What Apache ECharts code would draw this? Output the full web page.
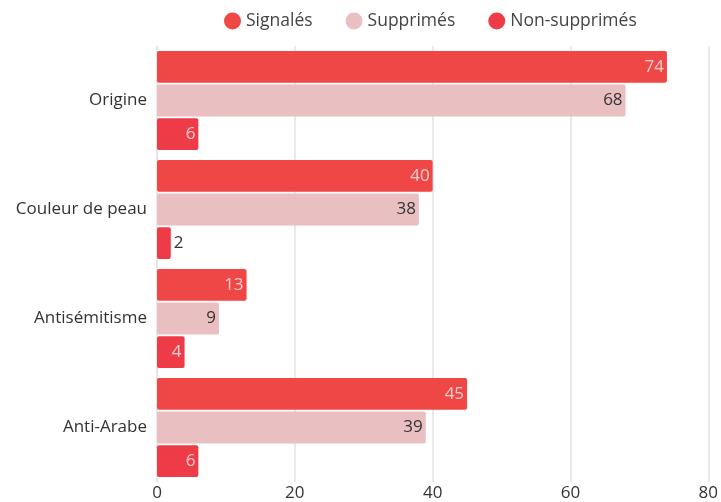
<!DOCTYPE html>
<html><head><meta charset="utf-8">
<script src="https://cdn.jsdelivr.net/npm/echarts@6/dist/echarts.min.js"></script>
<style>html,body{margin:0;padding:0;background:#fff}#c{width:721px;height:502px}</style>
</head><body><div id="c"></div>
<script>
const categories = ['Origine', 'Couleur de peau', 'Antisémitisme', 'Anti-Arabe'];
const signales = [74, 40, 13, 45];
const supprimes = [68, 38, 9, 39];
const nonSupprimes = [6, 2, 4, 6];
const xTicks = [0, 20, 40, 60, 80];

const FONT = '"Open Sans", sans-serif';
const FS = 17;
const chart = echarts.init(document.getElementById('c'), null, {renderer: 'canvas'});
const lightLabel = {show: true, position: 'insideRight', color: 'rgba(255,232,232,0.85)', fontSize: FS, fontFamily: FONT, distance: 3};
const darkLabel = {show: true, position: 'insideRight', color: '#333', fontSize: FS, fontFamily: FONT, distance: 3};
chart.setOption({
  animation: false,
  textStyle: {fontFamily: FONT},
  legend: {
    top: 7, left: 219, icon: 'circle', itemWidth: 17, itemHeight: 17, itemGap: 33,
    textStyle: {fontSize: 17.5, color: '#444', fontFamily: FONT},
    data: ['Signalés', 'Supprimés', 'Non-supprimés']
  },
  grid: {left: 157, right: 10, top: 46, bottom: 20, containLabel: false},
  xAxis: {
    type: 'value', min: xTicks[0], max: xTicks[xTicks.length - 1], interval: 20,
    axisLabel: {fontSize: FS, color: '#333', fontFamily: FONT, margin: 3},
    axisLine: {show: false}, axisTick: {show: false},
    splitLine: {lineStyle: {color: '#e2e2e2', width: 1.5}}
  },
  yAxis: {
    type: 'category', data: categories, inverse: true,
    axisLabel: {fontSize: FS, color: '#333', fontFamily: FONT, margin: 10},
    axisLine: {lineStyle: {color: '#e2e2e2'}}, axisTick: {show: false}
  },
  series: [
    {name: 'Signalés', type: 'bar', data: signales, barCategoryGap: '9%', barGap: '6%',
     itemStyle: {color: '#EF4646', borderRadius: 2}, label: lightLabel},
    {name: 'Supprimés', type: 'bar', data: supprimes,
     itemStyle: {color: '#E9BFC1', borderRadius: 2}, label: darkLabel},
    {name: 'Non-supprimés', type: 'bar',
     data: nonSupprimes.map(v => v < 3 ? {value: v, label: {position: 'right', color: '#333', distance: 3}} : v),
     itemStyle: {color: '#EE3B48', borderRadius: 2}, label: lightLabel}
  ]
});
</script></body></html>
